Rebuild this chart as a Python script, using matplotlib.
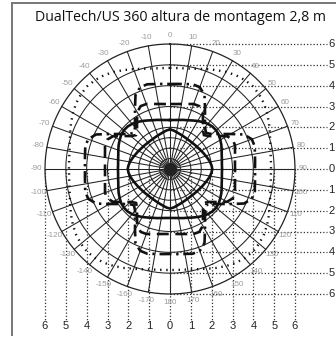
import numpy as np
import matplotlib.pyplot as plt

# scale: pixels per metre on the 100 dpi canvas
PX = 125 / 6

title = "DualTech/US 360 altura de montagem 2,8 m"

ring_radii = [0.5, 1.0, 1.5, 2.0, 3.0, 4.0, 5.0, 6.0]
spoke_angles = list(range(0, 360, 10))
metre_ticks = [6, 5, 4, 3, 2, 1, 0, 1, 2, 3, 4, 5, 6]
metre_pos = [-6, -5, -4, -3, -2, -1, 0, 1, 2, 3, 4, 5, 6]

# coverage curves: range (m) every 5 deg from 0 (top) to 90 (side)
quad_angles = list(range(0, 95, 5))
inner_solid = [1.90, 1.86, 1.80, 1.75, 1.71, 1.68, 1.66, 1.65, 1.65, 1.66,
               1.68, 1.70, 1.74, 1.78, 1.83, 1.89, 1.95, 2.00, 2.03]
outer_solid = [2.35, 2.36, 2.39, 2.44, 2.49, 2.57, 2.66, 2.75, 2.83, 2.88,
               2.89, 2.86, 2.79, 2.72, 2.64, 2.57, 2.53, 2.50, 2.50]
dashed = [3.12, 3.13, 3.17, 3.23, 3.32, 3.33, 3.15, 2.76, 2.46, 2.30,
          2.46, 2.76, 3.15, 3.33, 3.32, 3.23, 3.17, 3.13, 3.12]
dash_dot = [4.08, 4.10, 4.14, 4.21, 4.18, 3.92, 3.36, 2.93, 2.61, 2.45,
            2.61, 2.93, 3.36, 3.92, 4.18, 4.21, 4.14, 4.10, 4.08]
dotted = [4.85, 4.86, 4.90, 4.98, 5.10, 5.24, 5.38, 5.50, 5.58, 5.62,
          5.58, 5.50, 5.38, 5.24, 5.10, 4.98, 4.90, 4.86, 4.85]


def full_curve(values):
    a = np.array(quad_angles, dtype=float)
    r = np.array(values)
    ang = np.concatenate([a, 180 - a[::-1], 180 + a, 360 - a[::-1]])
    rr = np.concatenate([r, r[::-1], r, r[::-1]])
    t = np.radians(ang)
    return rr * np.sin(t), rr * np.cos(t)


fig = plt.figure(figsize=(3.36, 3.38), dpi=100)
ax = fig.add_axes([0, 0, 1, 1])
ax.set_xlim(-170 / PX, 166 / PX)
ax.set_ylim(-169 / PX, 169 / PX)
ax.axis('off')

# frame
ax.plot([-158 / PX, -158 / PX], [-166 / PX, 166 / PX], color='#777777', lw=1.4)
ax.plot([-158 / PX, 170 / PX], [166 / PX, 166 / PX], color='#777777', lw=1.4)

# polar grid
t = np.linspace(0, 2 * np.pi, 400)
for r in ring_radii:
    ax.plot(r * np.sin(t), r * np.cos(t), color='#222222', lw=0.75 if r < 6 else 0.9)
for a in spoke_angles:
    ax.plot([0, 6 * np.sin(np.radians(a))], [0, 6 * np.cos(np.radians(a))],
            color='#222222', lw=0.75)
ax.scatter([0], [0], s=70, color='#222222', zorder=5)

# metre grid: horizontal lines to the right, vertical lines downward
for p, lab in zip(metre_pos, metre_ticks):
    ax.plot([0, 7.55], [-p, -p], color='#333333', lw=0.9, ls=(0, (1, 1.6)))
    ax.text(7.75, -p, str(lab), ha='center', va='center', fontsize=8,
            family='Liberation Sans', color='#222222')
    ax.plot([p, p], [0, -7.3], color='#333333', lw=0.9, ls=(0, (1, 1.6)))
    ax.text(p, -7.55, str(lab), ha='center', va='center', fontsize=8,
            family='Liberation Sans', color='#222222')

# angle labels
for a in range(-170, 190, 10):
    th = np.radians(a)
    ax.text(6.4 * np.sin(th), 6.4 * np.cos(th), str(a), ha='center', va='center',
            fontsize=5.8, family='Liberation Sans', color='#9a9a9a')

# coverage curves
x, y = full_curve(dotted)
ax.plot(x, y, color='#111111', lw=1.7, ls=(0, (0.6, 2.0)))
x, y = full_curve(dash_dot)
ax.plot(x, y, color='#111111', lw=1.9, ls=(0, (4.5, 1.8, 0.9, 1.8)))
x, y = full_curve(dashed)
ax.plot(x, y, color='#111111', lw=1.9, ls=(0, (4.5, 2.5)))
x, y = full_curve(outer_solid)
ax.plot(x, y, color='#111111', lw=1.9)
x, y = full_curve(inner_solid)
ax.plot(x, y, color='#111111', lw=1.9)

fig.text(0.536, 0.947, title, ha='center', va='center', fontsize=10.2,
         family='Open Sans', color='#111111')

fig.savefig('out.png', dpi=100)
